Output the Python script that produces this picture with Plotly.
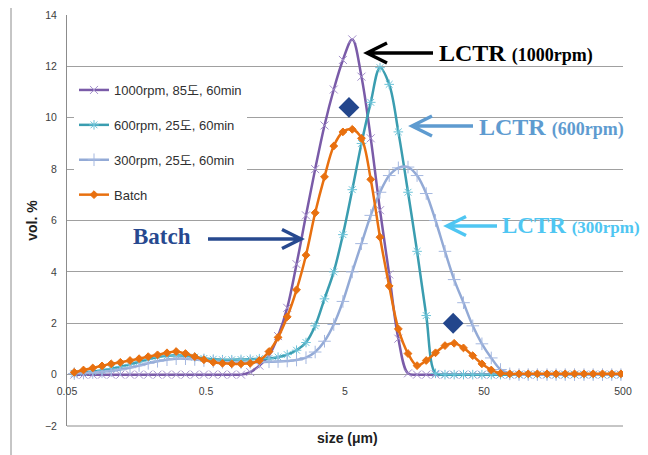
import plotly.graph_objects as go

# ---------------- data ----------------
sizes_um = [0.0564, 0.0657, 0.0766, 0.0893, 0.104, 0.121, 0.142, 0.165, 0.192, 0.224,
            0.262, 0.305, 0.356, 0.415, 0.483, 0.564, 0.657, 0.766, 0.893, 1.04,
            1.21, 1.42, 1.65, 1.92, 2.24, 2.62, 3.05, 3.56, 4.15, 4.83,
            5.64, 6.57, 7.66, 8.93, 10.4, 12.1, 14.2, 16.5, 19.2, 22.4,
            26.2, 30.5, 35.6, 41.5, 48.3, 56.4, 65.7, 76.6, 89.3, 104,
            121, 142, 165, 192, 224, 262, 305, 356, 415, 483]

rpm1000 = [0, 0, 0, 0, 0, 0, 0, 0, 0, 0,
           0, 0, 0, 0, 0, 0, 0, 0, 0, 0.1,
           0.35, 0.75, 1.5, 2.6, 4.3, 6.2, 8.0, 9.7, 11.1, 12.25,
           13.05, 11.6, 9.2, 6.4, 3.9, 1.4, 0.05, 0, 0, 0,
           0, 0, 0, 0, 0, 0, 0, 0, 0, 0,
           0, 0, 0, 0, 0, 0, 0, 0, 0, 0]

rpm600 = [0.05, 0.08, 0.12, 0.17, 0.23, 0.31, 0.4, 0.5, 0.6, 0.68,
          0.73, 0.75, 0.73, 0.68, 0.63, 0.6, 0.58, 0.58, 0.59, 0.6,
          0.62, 0.63, 0.68, 0.78, 0.95, 1.25, 1.9, 2.95, 4.0, 5.45,
          7.2, 9.0, 10.6, 11.95, 11.3, 9.45, 7.1, 4.8, 2.3, 0.05,
          0, 0, 0, 0, 0, 0, 0, 0, 0, 0,
          0, 0, 0, 0, 0, 0, 0, 0, 0, 0]

rpm300 = [0.04, 0.06, 0.08, 0.11, 0.15, 0.2, 0.27, 0.35, 0.44, 0.52,
          0.58, 0.62, 0.62, 0.59, 0.55, 0.51, 0.48, 0.47, 0.47, 0.48,
          0.49, 0.5, 0.51, 0.53, 0.57, 0.66, 0.88, 1.3, 1.95, 2.85,
          4.0, 5.1, 6.2, 7.1, 7.75, 8.05, 8.08, 7.75, 7.05, 6.0,
          4.8, 3.7, 2.8, 1.9, 1.2, 0.65, 0.2, 0.03, 0, 0,
          0, 0, 0, 0, 0, 0, 0, 0, 0, 0]

batch = [0.09, 0.18, 0.26, 0.34, 0.42, 0.48, 0.55, 0.62, 0.7, 0.77,
         0.85, 0.9, 0.82, 0.7, 0.58, 0.48, 0.44, 0.42, 0.42, 0.44,
         0.55, 0.9, 1.45, 2.25, 3.3, 4.65, 6.3, 7.7, 8.9, 9.45,
         9.55, 9.2, 7.6, 5.35, 3.45, 1.78, 0.82, 0.35, 0.55, 0.85,
         1.13, 1.22, 1.04, 0.74, 0.42, 0.18, 0.05, 0.03, 0.03, 0.03,
         0.03, 0.03, 0.03, 0.03, 0.03, 0.03, 0.03, 0.03, 0.03, 0.03]

series_names = ["1000rpm, 85도, 60min", "600rpm, 25도, 60min", "300rpm, 25도, 60min", "Batch"]

peak_marker_x = [5.34, 30.0]
peak_marker_y = [10.4, 2.0]

x_tick_vals = [0.05, 0.5, 5, 50, 500]
x_tick_text = ["0.05", "0.5", "5", "50", "500"]
y_tick_vals = [-2, 0, 2, 4, 6, 8, 10, 12, 14]

# ---------------- layout helpers ----------------
# the page body adds an 8 px offset; the figure is sized so the plot area
# lands on screen at x 67..623, y 15..426
OFF = 8
PL, PT, PW, PH = 67, 15, 556, 411
FW, FH = 648 - OFF, 455 - OFF
ML, MT = PL - OFF, PT - OFF
MR, MB = FW - ML - PW, FH - MT - PH


def px(xp):
    return (xp - PL) / PW


def py(yp):
    return (PT + PH - yp) / PH


base_font = "Liberation Sans, Noto Sans CJK KR, sans-serif"
serif = "Liberation Serif, Times New Roman, serif"

fig = go.Figure()

styles = [
    (rpm1000, "#7A5BA8", "x-thin-open", "#A38FCB", 8),
    (rpm600, "#3A9DB0", "asterisk-open", "#6CC3D8", 8),
    (rpm300, "#93AAD6", "cross-thin-open", "#A5B8E0", 9),
    (batch, "#E8700F", "diamond", "#E8700F", 6),
]
for i, (vals, lc, sym, mc, ms) in enumerate(styles):
    fig.add_trace(go.Scatter(
        x=sizes_um, y=vals, name=series_names[i], mode="lines+markers",
        line=dict(color=lc, width=2.5, shape="spline", smoothing=1.0),
        marker=dict(symbol=sym, size=ms, color=mc, line=dict(color=mc, width=1)),
        legendgroup=f"g{i}",
    ))

fig.add_trace(go.Scatter(
    x=peak_marker_x, y=peak_marker_y, mode="markers", showlegend=False,
    marker=dict(symbol="diamond", size=16, color="#23468C"),
))

grid = "#A0A0A0"
fig.update_layout(
    width=FW, height=FH, autosize=False,
    margin=dict(l=ML, r=MR, t=MT, b=MB, autoexpand=False),
    paper_bgcolor="white", plot_bgcolor="white",
    font=dict(family=base_font, size=10, color="#404040"),
    showlegend=True,
    legend=dict(x=px(74), y=py(75), xanchor="left", yanchor="top",
                bgcolor="white", font=dict(family=base_font, size=13, color="#303030"),
                tracegroupgap=15, itemwidth=30),
    xaxis=dict(type="log", range=[-1.30103, 2.69897], anchor="free", position=0.125,
               showgrid=False, showline=False, zeroline=False, ticks="", automargin=False,
               tickvals=x_tick_vals, ticktext=x_tick_text, ticklabelstandoff=9,
               tickfont=dict(size=10.5, color="#404040")),
    yaxis=dict(range=[-2, 14], tickvals=y_tick_vals, showgrid=True, gridcolor=grid,
               gridwidth=1, zeroline=False, showline=True, linecolor="#8C8C8C",
               linewidth=1, ticks="", ticklabelstandoff=7, automargin=False,
               tickfont=dict(size=10.5, color="#404040"),
               title=dict(text="<b>vol. %</b>", font=dict(size=14, color="#202020"), standoff=4)),
)

shapes = []
# bottom axis line at y = -2
shapes.append(dict(type="line", xref="paper", yref="paper", x0=0, x1=1, y0=0, y1=0,
                   line=dict(color="#8C8C8C", width=1)))
# left outer border line
shapes.append(dict(type="line", xref="paper", yref="paper", x0=px(11), x1=px(11),
                   y0=py(0), y1=py(455), line=dict(color="#8C8C8C", width=1)))


def arrow(x_tail, x_tip, y, head, color, width=3.5):
    d = 1 if x_tail > x_tip else -1
    path = (f"M {px(x_tail)} {py(y)} L {px(x_tip)} {py(y)} "
            f"M {px(x_tip + d * head)} {py(y - head * 0.5)} L {px(x_tip)} {py(y)} "
            f"L {px(x_tip + d * head)} {py(y + head * 0.5)}")
    return dict(type="path", xref="paper", yref="paper", path=path,
                line=dict(color=color, width=width))


shapes.append(arrow(433, 367, 53, 20, "#000000"))
shapes.append(arrow(473, 412, 126, 20, "#5E9BD0"))
shapes.append(arrow(497, 447, 226, 19, "#4FC6F2"))
shapes.append(arrow(208, 301, 239, 19, "#27498F"))
fig.update_layout(shapes=shapes)

ann = []


def label(text, xp, yp, color, big=24, small=18):
    return dict(xref="paper", yref="paper", x=px(xp), y=py(yp), xanchor="left",
                yanchor="middle", showarrow=False,
                text=text.replace("{S}", f"<span style='font-size:{small}px'>").replace("{E}", "</span>"),
                font=dict(family=serif, size=big, color=color))


ann.append(label("<b>LCTR {S}(1000rpm){E}</b>", 437, 53, "#000000"))
ann.append(label("<b>LCTR {S}(600rpm){E}</b>", 477, 127, "#5E9BD0"))
ann.append(label("<b>LCTR {S}(300rpm){E}</b>", 500, 226, "#4FC6F2", big=23, small=17))
ann.append(label("<b>Batch</b>", 131, 236, "#27498F", big=23))
ann.append(dict(xref="paper", yref="paper", x=px(347), y=py(438), xanchor="center",
                yanchor="middle", showarrow=False, text="<b>size (μm)</b>",
                font=dict(family=base_font, size=14, color="#202020")))
fig.update_layout(annotations=ann)

fig.write_html("out.html")
